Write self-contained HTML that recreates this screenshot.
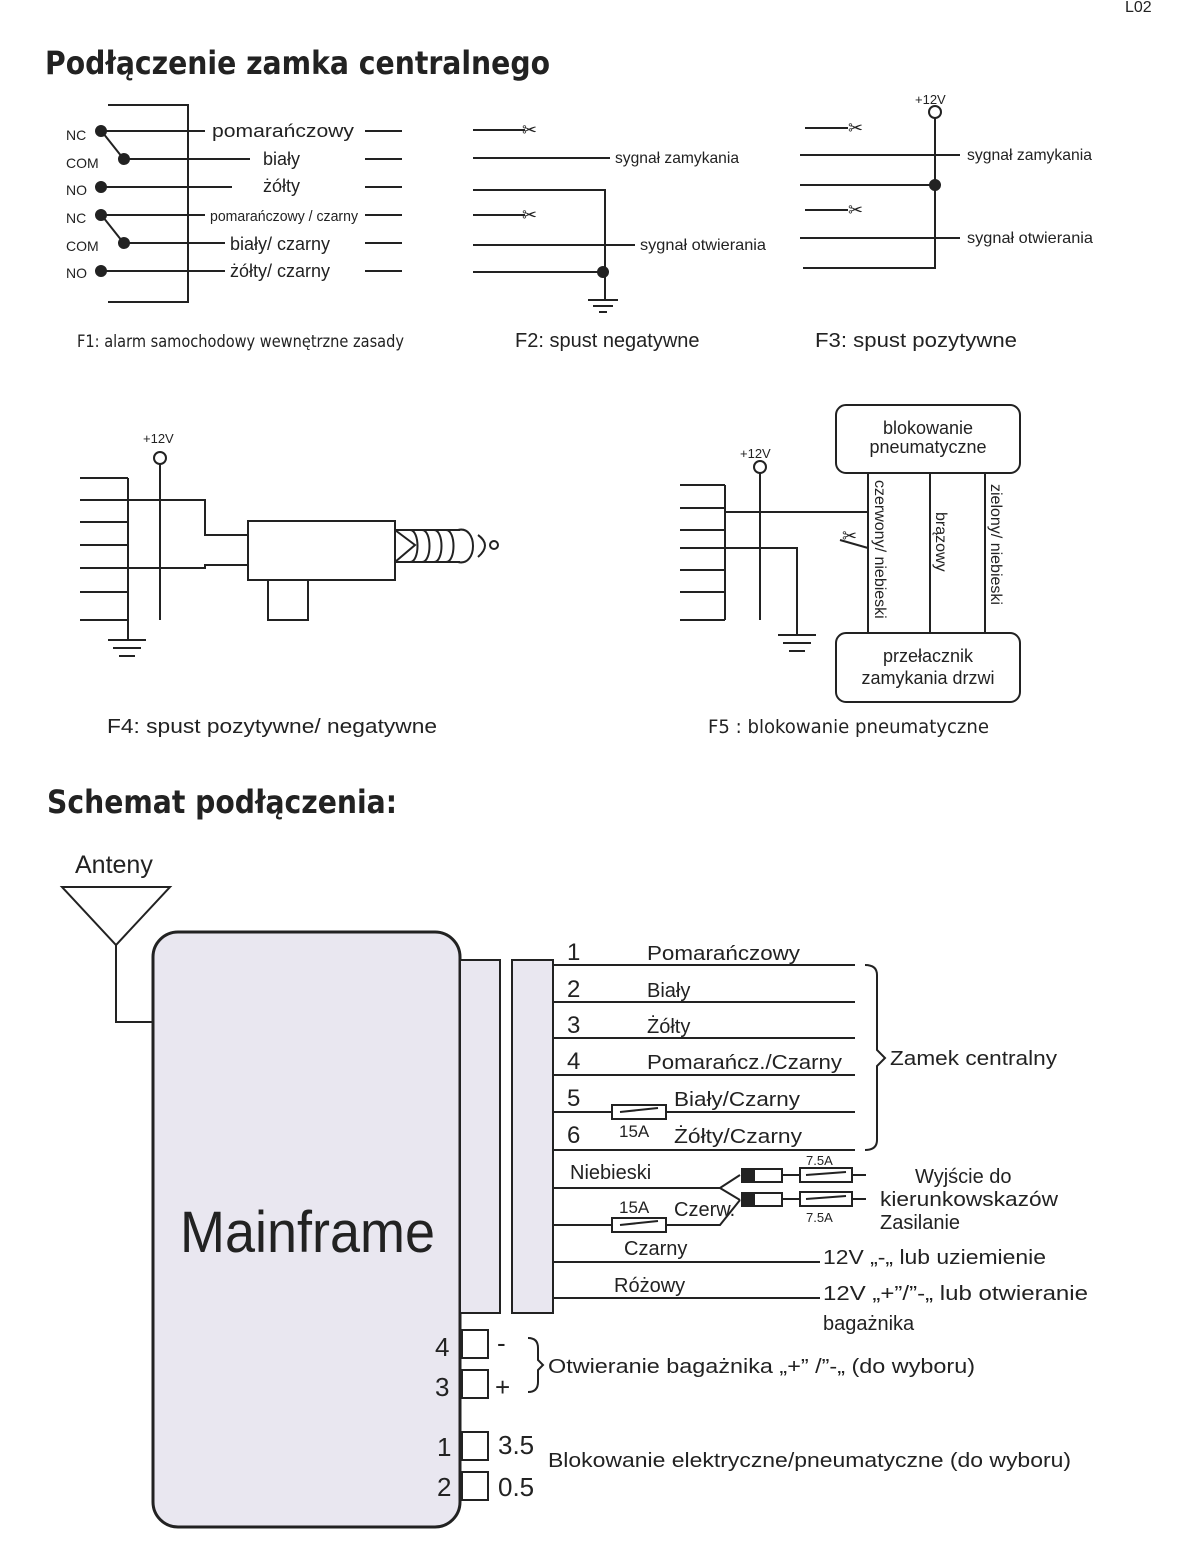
<!DOCTYPE html>
<html><head><meta charset="utf-8"><style>
html,body{margin:0;padding:0;background:#fff}
svg{display:block}
text{font-family:"Liberation Sans","DejaVu Sans",sans-serif;fill:#222}
.c{font-family:"DejaVu Sans Condensed","DejaVu Sans","Liberation Sans",sans-serif}
.d{font-family:"DejaVu Sans","Liberation Sans",sans-serif}
</style></head><body>
<svg width="1179" height="1560" viewBox="0 0 1179 1560" xmlns="http://www.w3.org/2000/svg" stroke="#222" stroke-width="2" fill="none">
<text x="1125" y="12" font-size="16" stroke="none" fill="#555">L02</text>
<text x="45" y="74" font-size="32" font-weight="bold" stroke="none" class="c" textLength="505" lengthAdjust="spacingAndGlyphs">Podłączenie zamka centralnego</text>

<!-- F1 -->
<path d="M108 105H188V302H108"/>
<g font-size="14" stroke="none" class="c">
<text x="66" y="140">NC</text><text x="66" y="168">COM</text><text x="66" y="195">NO</text>
<text x="66" y="223">NC</text><text x="66" y="251">COM</text><text x="66" y="278">NO</text>
</g>
<g fill="#222"><circle cx="101" cy="131" r="5"/><circle cx="124" cy="159" r="5"/><circle cx="101" cy="187" r="5"/><circle cx="101" cy="215" r="5"/><circle cx="124" cy="243" r="5"/><circle cx="101" cy="271" r="5"/></g>
<path d="M101 131H205M124 159H250M101 187H232M101 215H205M124 243H225M101 271H225M103 133L122 157M103 217L122 241"/>
<path d="M365 131H402M365 159H402M365 187H402M365 215H402M365 243H402M365 271H402"/>
<g font-size="18" stroke="none" class="c">
<text x="212" y="137" textLength="142" lengthAdjust="spacingAndGlyphs">pomarańczowy</text><text x="263" y="165">biały</text><text x="263" y="192">żółty</text>
<text x="210" y="221" font-size="15" textLength="148" lengthAdjust="spacingAndGlyphs">pomarańczowy / czarny</text><text x="230" y="250">biały/ czarny</text><text x="230" y="277">żółty/ czarny</text>
</g>
<text x="77" y="347" font-size="17" stroke="none" class="c" textLength="327" lengthAdjust="spacingAndGlyphs">F1:  alarm samochodowy wewnętrzne zasady</text>

<!-- F2 -->
<path d="M473 130H525M473 158H610M473 190H605V300M473 215H525M473 245H635M473 272H603M588 300H618M593 306H613M599 312H607"/>
<circle cx="603" cy="272" r="5" fill="#222"/>
<g font-size="18" stroke="none"><text x="522" y="136">✂</text><text x="522" y="221">✂</text></g>
<g font-size="16" stroke="none" class="c"><text x="615" y="163" textLength="124" lengthAdjust="spacingAndGlyphs">sygnał zamykania</text><text x="640" y="250" textLength="126" lengthAdjust="spacingAndGlyphs">sygnał otwierania</text></g>
<text x="515" y="347" font-size="20" stroke="none">F2:  spust negatywne</text>

<!-- F3 -->
<text x="915" y="104" font-size="13" stroke="none">+12V</text>
<circle cx="935" cy="112" r="6"/>
<path d="M935 118V268H803M805 128H848M800 155H960M800 185H935M805 210H848M800 238H960"/>
<circle cx="935" cy="185" r="5" fill="#222"/>
<g font-size="18" stroke="none"><text x="848" y="134">✂</text><text x="848" y="216">✂</text></g>
<g font-size="16" stroke="none" class="c"><text x="967" y="160" textLength="125" lengthAdjust="spacingAndGlyphs">sygnał zamykania</text><text x="967" y="243" textLength="126" lengthAdjust="spacingAndGlyphs">sygnał otwierania</text></g>
<text x="815" y="347" font-size="20" stroke="none" textLength="202" lengthAdjust="spacingAndGlyphs">F3:  spust pozytywne</text>

<!-- F4 -->
<text x="143" y="443" font-size="13" stroke="none">+12V</text>
<circle cx="160" cy="458" r="6"/>
<path d="M160 464V620M80 478H128M80 500H205V535H248M80 522H128M80 545H128M80 568H205V565H248M80 592H128M80 620H128M128 478V640M108 640H146M113 648H141M119 656H135"/>
<rect x="248" y="521" width="147" height="59"/>
<path d="M268 580V620H308V580M395 530L415 545L395 562M410 530C420 530 420 562 410 562M422 530C432 530 432 562 422 562M434 530C444 530 444 562 434 562M446 530C456 530 456 562 446 562M458 530C478 525 478 567 458 562M478 535Q492 545 478 557M490 545a4 4 0 1 0 8 0a4 4 0 1 0 -8 0M395 530H460M395 562H460"/>
<text x="107" y="733" font-size="20" stroke="none" textLength="330" lengthAdjust="spacingAndGlyphs">F4:  spust  pozytywne/ negatywne</text>

<!-- F5 -->
<rect x="836" y="405" width="184" height="68" rx="10"/>
<rect x="836" y="633" width="184" height="69" rx="10"/>
<g font-size="18" stroke="none" text-anchor="middle" class="c">
<text x="928" y="434">blokowanie</text><text x="928" y="453">pneumatyczne</text>
<text x="928" y="662">przełacznik</text><text x="928" y="684">zamykania drzwi</text>
</g>
<path d="M868 473V633M930 473V633M985 473V633"/>
<g font-size="16" stroke="none" class="c">
<text transform="translate(875,480) rotate(90)">czerwony/ niebieski</text>
<text transform="translate(936,512) rotate(90)">brązowy</text>
<text transform="translate(991,484) rotate(90)">zielony/ niebieski</text>
</g>
<text x="740" y="458" font-size="13" stroke="none">+12V</text>
<circle cx="760" cy="467" r="6"/>
<path d="M760 473V620M680 485H725M680 508H725M680 530H725M680 548H725M680 570H725M680 592H725M680 620H725M725 485V620M725 512H868M725 548H797V635M778 635H816M783 643H811M789 651H805M840 540L868 548"/>
<text x="842" y="542" font-size="18" stroke="none">✂</text>
<text x="708" y="733" font-size="19" stroke="none" class="c" textLength="281" lengthAdjust="spacingAndGlyphs">F5 :  blokowanie pneumatyczne</text>

<!-- Schemat -->
<text x="47" y="813" font-size="32" font-weight="bold" stroke="none" class="c" textLength="350" lengthAdjust="spacingAndGlyphs">Schemat podłączenia:</text>
<text x="75" y="873" font-size="25" stroke="none">Anteny</text>
<path d="M62 887H170L116 945ZM116 945V1022H153"/>
<rect x="153" y="932" width="307" height="595" rx="25" fill="#e9e7f0" stroke-width="3"/>
<text x="180" y="1252" font-size="58" stroke="none" textLength="255" lengthAdjust="spacingAndGlyphs">Mainframe</text>
<rect x="460" y="960" width="40" height="353" fill="#e9e7f0"/>
<rect x="512" y="960" width="41" height="353" fill="#e9e7f0"/>
<path d="M553 965H855M553 1002H855M553 1038H855M553 1075H855M553 1112H612M666 1112H855M553 1150H855M865 965Q877 965 877 975V1050L885 1058L877 1066V1140Q877 1150 865 1150"/>
<rect x="612" y="1105" width="54" height="14"/>
<path d="M620 1112L658 1108"/>
<g font-size="24" stroke="none">
<text x="567" y="960">1</text><text x="567" y="997">2</text><text x="567" y="1033">3</text><text x="567" y="1069">4</text><text x="567" y="1106">5</text><text x="567" y="1143">6</text>
</g>
<g font-size="20" stroke="none" class="d">
<text x="647" y="960" textLength="153" lengthAdjust="spacingAndGlyphs">Pomarańczowy</text><text x="647" y="997">Biały</text><text x="647" y="1033">Żółty</text><text x="647" y="1069" textLength="195" lengthAdjust="spacingAndGlyphs">Pomarańcz./Czarny</text>
<text x="674" y="1106" textLength="126" lengthAdjust="spacingAndGlyphs">Biały/Czarny</text><text x="619" y="1137" font-size="17">15A</text><text x="674" y="1143" textLength="128" lengthAdjust="spacingAndGlyphs">Żółty/Czarny</text>
<text x="890" y="1065" textLength="167" lengthAdjust="spacingAndGlyphs">Zamek centralny</text>
<text x="570" y="1179">Niebieski</text>
<text x="674" y="1216">Czerw.</text><text x="619" y="1213" font-size="17">15A</text>
<text x="624" y="1255">Czarny</text><text x="614" y="1292">Różowy</text>
<text x="823" y="1264" textLength="223" lengthAdjust="spacingAndGlyphs">12V „-„ lub uziemienie</text>
<text x="823" y="1300" textLength="265" lengthAdjust="spacingAndGlyphs">12V „+”/”-„ lub otwieranie</text>
<text x="823" y="1330">bagażnika</text>
<text x="915" y="1183">Wyjście do</text><text x="880" y="1206" textLength="178" lengthAdjust="spacingAndGlyphs">kierunkowskazów</text><text x="880" y="1229">Zasilanie</text>
<text x="548" y="1373" textLength="427" lengthAdjust="spacingAndGlyphs">Otwieranie bagażnika „+” /”-„ (do wyboru)</text>
<text x="548" y="1467" textLength="523" lengthAdjust="spacingAndGlyphs">Blokowanie elektryczne/pneumatyczne (do wyboru)</text>
</g>
<path d="M553 1188H720L740 1175M720 1188L740 1200M553 1225H612M666 1225H720L740 1200M612 1218H666V1232H612ZM620 1225L658 1221"/>
<rect x="742" y="1169" width="40" height="13" fill="#fff"/><rect x="742" y="1169" width="12" height="13" fill="#222"/>
<rect x="742" y="1193" width="40" height="13" fill="#fff"/><rect x="742" y="1193" width="12" height="13" fill="#222"/>
<path d="M782 1175H800M852 1175H866M782 1199H800M852 1199H866"/>
<rect x="800" y="1168" width="52" height="14"/><rect x="800" y="1192" width="52" height="14"/>
<path d="M806 1175L846 1172M806 1199L846 1196"/>
<g font-size="13" stroke="none"><text x="806" y="1165">7.5A</text><text x="806" y="1222">7.5A</text></g>
<path d="M553 1262H820M553 1298H820"/>
<rect x="462" y="1330" width="26" height="28"/><rect x="462" y="1370" width="26" height="28"/>
<rect x="462" y="1432" width="26" height="28"/><rect x="462" y="1472" width="26" height="28"/>
<g font-size="26" stroke="none">
<text x="435" y="1356">4</text><text x="435" y="1396">3</text><text x="437" y="1456">1</text><text x="437" y="1496">2</text>
<text x="497" y="1352">-</text><text x="495" y="1396">+</text><text x="498" y="1454">3.5</text><text x="498" y="1496">0.5</text>
</g>
<path d="M528 1338Q538 1338 538 1348V1360L543 1365L538 1370V1382Q538 1392 528 1392"/>
</svg>
</body></html>
